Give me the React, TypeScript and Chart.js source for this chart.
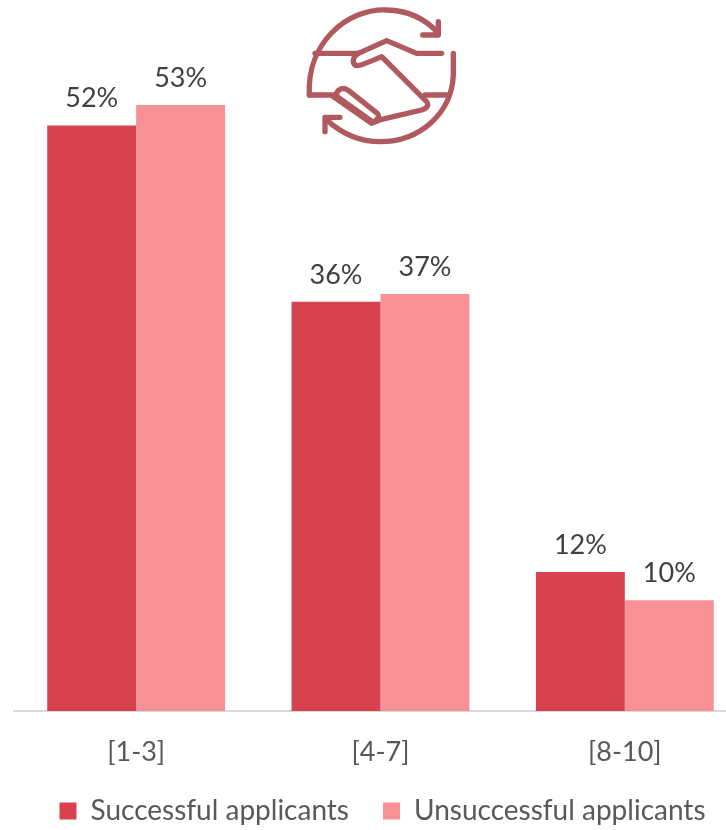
import React, { useEffect, useRef } from "react";
import { Chart, registerables } from "chart.js";

Chart.register(...registerables);

const categories = ["[1-3]", "[4-7]", "[8-10]"];
const successfulValues = [51.8, 36.2, 12.3];
const unsuccessfulValues = [53.6, 36.9, 9.8];
const successfulLabels = ["52%", "36%", "12%"];
const unsuccessfulLabels = ["53%", "37%", "10%"];
const seriesNames = ["Successful applicants", "Unsuccessful applicants"];
const FONT = "Lato, Carlito, sans-serif";

const barLabels = {
  id: "barLabels",
  afterDatasetsDraw(chart: any) {
    const ctx = chart.ctx;
    ctx.save();
    ctx.font = `27px ${FONT}`;
    ctx.fillStyle = "#404040";
    ctx.textAlign = "center";
    ctx.textBaseline = "alphabetic";
    [successfulLabels, unsuccessfulLabels].forEach((labels, d) => {
      chart.getDatasetMeta(d).data.forEach((bar: any, i: number) => {
        ctx.fillText(labels[i], bar.x, bar.y - 18);
      });
    });
    ctx.restore();
  },
};

const legendNudge = {
  id: "legendNudge",
  afterLayout(chart: any) {
    chart.legend.top -= 10;
    chart.legend.bottom -= 10;
    chart.legend.left += 2;
    chart.legend.right += 2;
  },
};

export default function App() {
  const ref = useRef<HTMLCanvasElement>(null);
  useEffect(() => {
    document.body.style.margin = "0";
    const chart = new Chart(ref.current!, {
      type: "bar",
      plugins: [barLabels, legendNudge],
      data: {
        labels: categories,
        datasets: [
          { label: seriesNames[0], data: successfulValues, backgroundColor: "#D6434E", categoryPercentage: 0.728, barPercentage: 1 },
          { label: seriesNames[1], data: unsuccessfulValues, backgroundColor: "#F89196", categoryPercentage: 0.728, barPercentage: 1 },
        ],
      },
      options: {
        responsive: false,
        animation: false,
        layout: { padding: { left: 14, right: 23, top: 0, bottom: 0 } },
        scales: {
          x: {
            grid: { display: false, drawTicks: false },
            border: { color: "#D9D9D9", width: 2 },
            ticks: { color: "#595959", font: { family: FONT, size: 27 }, padding: 25 },
            afterFit: (scale: any) => {
              scale.height = 62;
            },
          },
          y: { display: false, min: 0, max: 62.9 },
        },
        plugins: {
          tooltip: { enabled: false },
          legend: {
            position: "bottom",
            labels: {
              color: "#595959",
              font: { family: FONT, size: 28 },
              boxWidth: 17,
              boxHeight: 17,
              padding: 34,
            },
          },
        },
      },
    });
    return () => chart.destroy();
  }, []);
  return (
    <div style={{ position: "relative", width: 726, height: 830, overflow: "hidden" }}>
      <canvas ref={ref} width={770} height={845} style={{ display: "block" }} />
      <svg
        viewBox="0 0 540 450"
        width={180}
        height={150}
        style={{ position: "absolute", left: 290, top: 0 }}
        fill="none"
        stroke="#B05A5F"
        strokeWidth={16}
        strokeLinecap="round"
        strokeLinejoin="round"
      >
        <path d="M58 285 C50 130 170 25 290 30 C360 32 410 60 445 100" />
        <path d="M445 65 L445 105 L398 105" />
        <path d="M490 160 L490 225 C485 340 390 425 270 425 C210 425 160 405 110 360" />
        <path d="M150 352 L105 352 L105 395" />
        <path d="M58 285 L130 285" />
        <path d="M75 160 L205 160 L290 122 L380 160 L455 160" />
        <path d="M205 160 C190 170 185 185 195 195 C200 200 210 198 275 170 L410 305 C418 318 410 325 395 330 L275 358 L245 370 L130 290" />
        <path d="M145 272 C155 262 168 265 180 275 L262 340 C270 350 262 362 248 366" />
        <path d="M145 272 C135 282 140 290 150 296 L248 366" />
        <path d="M405 285 L475 285" />
      </svg>
    </div>
  );
}
